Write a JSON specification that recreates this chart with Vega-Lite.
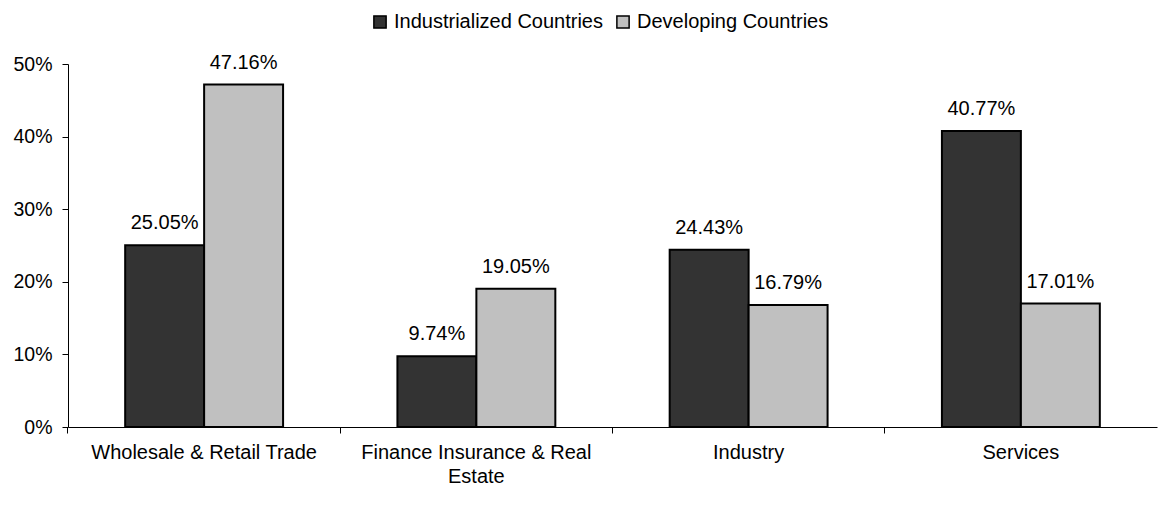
{
  "$schema": "https://vega.github.io/schema/vega-lite/v6.json",
  "autosize": {"type": "none"},
  "width": 1089,
  "height": 363,
  "padding": {"left": 68, "top": 64, "right": 12, "bottom": 98},
  "background": "white",
  "config": {
    "view": {"stroke": null},
    "font": "Liberation Sans"
  },
  "data": {
    "values": [
      {"sector": "Wholesale & Retail Trade", "group": "Industrialized Countries", "value": 0.2505},
      {"sector": "Wholesale & Retail Trade", "group": "Developing Countries", "value": 0.4716},
      {"sector": "Finance Insurance & Real Estate", "group": "Industrialized Countries", "value": 0.0974},
      {"sector": "Finance Insurance & Real Estate", "group": "Developing Countries", "value": 0.1905},
      {"sector": "Industry", "group": "Industrialized Countries", "value": 0.2443},
      {"sector": "Industry", "group": "Developing Countries", "value": 0.1679},
      {"sector": "Services", "group": "Industrialized Countries", "value": 0.4077},
      {"sector": "Services", "group": "Developing Countries", "value": 0.1701}
    ]
  },
  "encoding": {
    "x": {
      "field": "sector",
      "type": "nominal",
      "sort": null,
      "scale": {"paddingInner": 0.42, "paddingOuter": 0.21},
      "axis": {
        "title": null,
        "labelAngle": 0,
        "labelFontSize": 20,
        "labelColor": "black",
        "labelLimit": 0,
        "labelPadding": 9,
        "labelLineHeight": 24,
        "labelExpr": "datum.label == 'Finance Insurance & Real Estate' ? ['Finance Insurance & Real', 'Estate'] : datum.label",
        "domainColor": "black",
        "domainWidth": 1,
        "tickColor": "black",
        "tickSize": 6,
        "bandPosition": -0.3623
      }
    },
    "y": {
      "field": "value",
      "type": "quantitative",
      "scale": {"domain": [0, 0.5]},
      "axis": {
        "title": null,
        "format": ".0%",
        "values": [0, 0.1, 0.2, 0.3, 0.4, 0.5],
        "grid": false,
        "labelFontSize": 19.5,
        "labelColor": "black",
        "labelPadding": 10,
        "domainColor": "black",
        "tickColor": "black",
        "tickSize": 6
      }
    },
    "xOffset": {"field": "group", "type": "nominal", "sort": ["Industrialized Countries", "Developing Countries"]}
  },
  "layer": [
    {
      "mark": {"type": "bar", "stroke": "black", "strokeWidth": 2},
      "encoding": {
        "color": {
          "field": "group",
          "type": "nominal",
          "sort": ["Industrialized Countries", "Developing Countries"],
          "scale": {"domain": ["Industrialized Countries", "Developing Countries"], "range": ["#333333", "#c0c0c0"]},
          "legend": {
            "title": null,
            "orient": "none",
            "direction": "horizontal",
            "legendX": 302,
            "legendY": -52,
            "symbolType": "square",
            "symbolSize": 150,
            "symbolStrokeColor": "black",
            "symbolStrokeWidth": 1.5,
            "symbolOpacity": 1,
            "labelFontSize": 20,
            "labelColor": "black",
            "labelLimit": 0,
            "labelOffset": 4,
            "columnPadding": 10
          }
        }
      }
    },
    {
      "mark": {"type": "text", "baseline": "bottom", "dy": -12, "fontSize": 20, "color": "black"},
      "encoding": {
        "text": {"field": "value", "type": "quantitative", "format": ".2%"}
      }
    }
  ]
}
